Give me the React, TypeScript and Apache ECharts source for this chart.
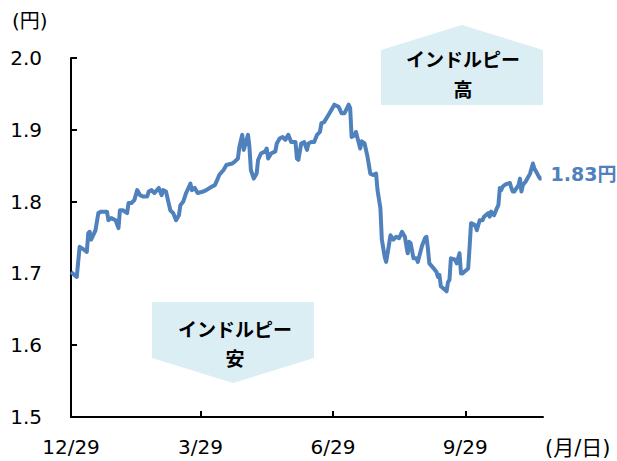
import React, { useEffect, useRef } from "react";
import * as echarts from "echarts";

// Day offsets from 12/29 and INR/JPY rate (円)
const days = [
  0, 4, 6, 9, 11, 12, 13, 14, 17, 19, 21, 25, 26, 28, 31, 33, 34, 36, 39, 40,
  42, 44, 46, 48, 50, 53, 54, 56, 58, 61, 63, 64, 66, 69, 71, 73, 75, 76, 78, 80,
  83, 84, 86, 88, 92, 94, 98, 100, 102, 103, 106, 108, 112, 114, 116, 117, 119, 120, 122, 123,
  124, 125, 127, 129, 130, 132, 135, 136, 137, 139, 142, 143, 145, 147, 149, 151, 153, 156, 157, 158,
  160, 162, 164, 165, 167, 169, 171, 173, 174, 176, 179, 181, 183, 186, 188, 190, 193, 194, 195, 197,
  198, 201, 202, 204, 206, 208, 210, 212, 213, 215, 216, 218, 219, 220, 222, 224, 226, 228, 230, 232,
  233, 234, 235, 236, 238, 240, 241, 244, 246, 247, 248, 249, 252, 254, 255, 256, 257, 260, 261, 262,
  263, 264, 267, 268, 270, 271, 272, 275, 276, 277, 278, 281, 282, 284, 286, 287, 290, 291, 292, 294,
  296, 297, 298, 299, 300, 302, 305, 306, 307, 308, 311, 312, 313, 314, 316, 319, 321, 322, 324, 325,
  326, 327,
];
const rates = [
  1.702, 1.695, 1.737, 1.733, 1.73, 1.756, 1.758, 1.747, 1.76, 1.784, 1.786, 1.786, 1.774, 1.777, 1.774, 1.763, 1.788, 1.788, 1.784, 1.798,
  1.798, 1.802, 1.816, 1.809, 1.807, 1.807, 1.814, 1.816, 1.812, 1.819, 1.809, 1.816, 1.814, 1.788, 1.784, 1.774, 1.781, 1.795, 1.8, 1.812,
  1.825, 1.816, 1.819, 1.812, 1.814, 1.816, 1.821, 1.823, 1.832, 1.837, 1.844, 1.851, 1.853, 1.856, 1.86, 1.876, 1.893, 1.872, 1.886, 1.893,
  1.876, 1.844, 1.832, 1.839, 1.858, 1.867, 1.87, 1.874, 1.86, 1.867, 1.87, 1.881, 1.888, 1.89, 1.886, 1.893, 1.883, 1.883, 1.86, 1.858,
  1.881, 1.883, 1.872, 1.881, 1.883, 1.883, 1.893, 1.897, 1.909, 1.911, 1.921, 1.928, 1.935, 1.932, 1.923, 1.923, 1.935, 1.93, 1.89, 1.892,
  1.897, 1.874, 1.884, 1.881, 1.863, 1.839, 1.837, 1.839, 1.816, 1.791, 1.747, 1.723, 1.716, 1.728, 1.753, 1.747, 1.751, 1.749, 1.758, 1.751,
  1.739, 1.728, 1.744, 1.742, 1.721, 1.721, 1.716, 1.739, 1.749, 1.751, 1.735, 1.714, 1.707, 1.702, 1.695, 1.698, 1.682, 1.677, 1.675, 1.688,
  1.691, 1.721, 1.719, 1.714, 1.728, 1.7, 1.7, 1.705, 1.707, 1.737, 1.77, 1.767, 1.76, 1.774, 1.774, 1.779, 1.784, 1.779, 1.786, 1.781,
  1.791, 1.795, 1.819, 1.816, 1.821, 1.824, 1.826, 1.819, 1.814, 1.814, 1.823, 1.832, 1.814, 1.823, 1.828, 1.839, 1.853, 1.846, 1.839, 1.835,
  1.832, 1.832,
];

const xTickDays = [0, 90, 182, 274];
const xTickLabels = ["12/29", "3/29", "6/29", "9/29"];
const endLabelText = "1.83円";

const FONT = "'DejaVu Sans', 'Noto Sans CJK JP', sans-serif";
const JFONT = "'Noto Sans CJK JP', sans-serif";
const BLUE = "#4F81BD";
const BOX = "#DAEEF3";

export default function App() {
  const ref = useRef<HTMLDivElement>(null);
  useEffect(() => {
    if (!ref.current) return;
    const chart = echarts.init(ref.current, undefined, { renderer: "svg" });
    const data = days.map((d, i) => [d, rates[i]]);
    chart.setOption({
      animation: false,
      backgroundColor: "#fff",
      grid: { left: 71, right: 74, top: 58, bottom: 44, containLabel: false },
      xAxis: {
        type: "value",
        min: 0,
        max: 328,
        splitLine: { show: false },
        axisLine: { show: true, lineStyle: { color: "#000", width: 2 } },
        axisTick: {
          show: true,
          inside: true,
          length: 6,
          customValues: xTickDays,
          lineStyle: { color: "#000", width: 2 },
        },
        axisLabel: {
          customValues: xTickDays,
          margin: 20,
          color: "#000",
          fontSize: 20,
          fontFamily: FONT,
          formatter: (v: number) => {
            const i = xTickDays.indexOf(Math.round(v));
            return i >= 0 ? xTickLabels[i] : "";
          },
        },
      },
      yAxis: {
        type: "value",
        min: 1.5,
        max: 2.0,
        interval: 0.1,
        splitLine: { show: false },
        axisLine: { show: true, lineStyle: { color: "#000", width: 2 } },
        axisTick: { show: true, inside: true, length: 6, lineStyle: { color: "#000", width: 2 } },
        axisLabel: {
          margin: 29,
          color: "#000",
          fontSize: 20,
          fontFamily: FONT,
          formatter: (v: number) => v.toFixed(1),
        },
      },
      series: [
        {
          type: "line",
          data,
          showSymbol: false,
          symbol: "none",
          lineStyle: { color: BLUE, width: 4, join: "round" },
          endLabel: {
            show: true,
            formatter: () => endLabelText,
            color: BLUE,
            fontWeight: "bold",
            fontSize: 19,
            fontFamily: FONT,
            distance: 9,
            offset: [0, -5],
          },
        },
      ],
      graphic: [
        {
          type: "polygon",
          shape: { points: [[381, 50], [462, 25], [543, 50], [543, 105], [381, 105]] },
          style: { fill: BOX },
          z: 1,
        },
        {
          type: "text",
          x: 463,
          y: 58,
          style: { text: "インドルピー", fill: "#000", font: `bold 19px ${JFONT}`, textAlign: "center", textVerticalAlign: "middle" },
          z: 2,
        },
        {
          type: "text",
          x: 463,
          y: 88,
          style: { text: "高", fill: "#000", font: `bold 19px ${JFONT}`, textAlign: "center", textVerticalAlign: "middle" },
          z: 2,
        },
        {
          type: "polygon",
          shape: { points: [[152, 302], [314, 302], [314, 358], [233, 383], [152, 358]] },
          style: { fill: BOX },
          z: 1,
        },
        {
          type: "text",
          x: 235,
          y: 328,
          style: { text: "インドルピー", fill: "#000", font: `bold 19px ${JFONT}`, textAlign: "center", textVerticalAlign: "middle" },
          z: 2,
        },
        {
          type: "text",
          x: 235,
          y: 357,
          style: { text: "安", fill: "#000", font: `bold 19px ${JFONT}`, textAlign: "center", textVerticalAlign: "middle" },
          z: 2,
        },
        {
          type: "text",
          x: 12,
          y: 21,
          style: { text: "(円)", fill: "#000", font: `20px ${FONT}`, textAlign: "left", textVerticalAlign: "middle" },
        },
        {
          type: "text",
          x: 545,
          y: 448,
          style: { text: "(月/日)", fill: "#000", font: `21px ${FONT}`, textAlign: "left", textVerticalAlign: "middle" },
        },
      ],
    });
    return () => chart.dispose();
  }, []);
  return (
    <div
      ref={ref}
      style={{ position: "fixed", left: 0, top: 0, width: 617, height: 461 }}
    />
  );
}
